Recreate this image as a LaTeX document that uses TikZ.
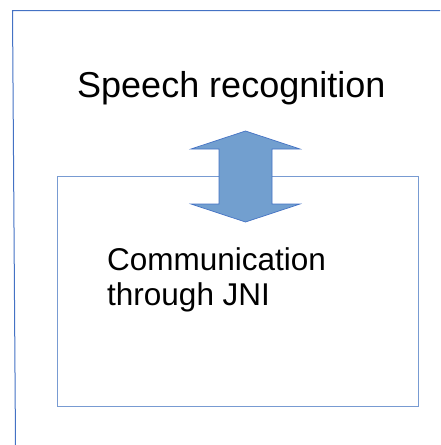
\documentclass[tikz,border=0pt]{standalone}
\usepackage{fontspec}
\setmainfont{Liberation Sans}
\usetikzlibrary{positioning}
\usetikzlibrary{calc}

\definecolor{frameblue}{RGB}{68,114,196}
\definecolor{boxblue}{RGB}{120,155,210}
\definecolor{arrowfill}{RGB}{114,159,207}

\tikzset{
    label text/.style={inner sep=0pt, anchor=base west, align=left},
    frame line/.style={draw=frameblue, line width=1pt},
    module box/.style={draw=boxblue, line width=1pt},
    dbl arrow/.style={draw=frameblue, fill=arrowfill, line width=0.7pt, line join=miter},
}

\begin{document}
\begin{tikzpicture}[x=1pt, y=-1pt]
    \useasboundingbox (0,0) rectangle (440,445);

    % outer frame (only top and left edges show)
    \coordinate (frameTR) at (440,10.5);
    \coordinate (frameTL) at (12.5,10.5);
    \coordinate (frameBL) at (15.5,445);
    \draw[frame line] (frameTR) -- (frameTL) -- (frameBL);

    % speech recognition
    \node[label text, font=\fontsize{36}{40}\selectfont] (speech) at (77,97) {Speech recognition};

    % JNI box
    \node[module box, minimum width=361pt, minimum height=230pt, anchor=north west, inner sep=0pt] (jni) at (57,176) {};
    \node[label text, font=\fontsize{31.5}{35}\selectfont] (comm) at (107,305) {Communication\\through JNI};

    % two-way arrow between them
    \coordinate (link) at (245.5,176.5);
    \draw[dbl arrow] ($(link)+(0,-45.5)$) -- ($(link)+(54.5,-27.5)$) -- ($(link)+(26.5,-27.5)$)
        -- ($(link)+(26.5,27.5)$) -- ($(link)+(54.5,27.5)$) -- ($(link)+(0,45.5)$)
        -- ($(link)+(-54.5,27.5)$) -- ($(link)+(-26.5,27.5)$) -- ($(link)+(-26.5,-27.5)$)
        -- ($(link)+(-54.5,-27.5)$) -- cycle;

\end{tikzpicture}
\end{document}
